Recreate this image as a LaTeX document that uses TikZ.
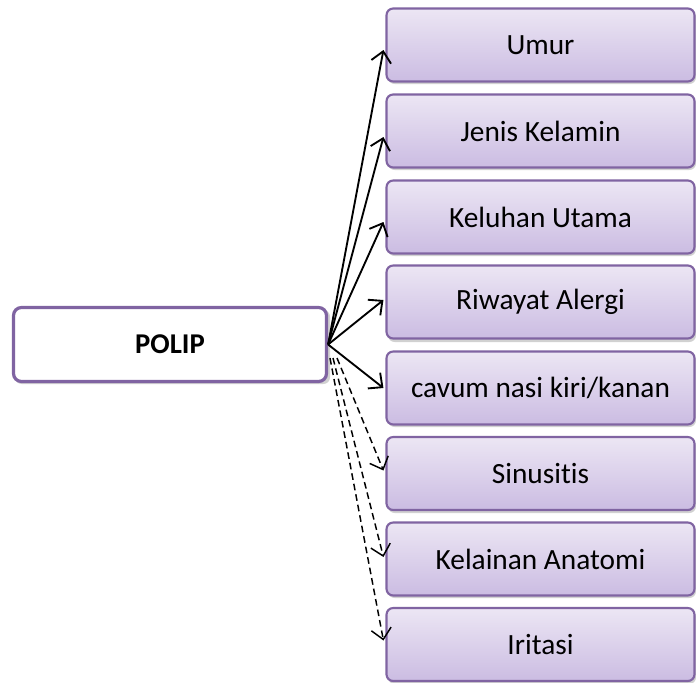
\documentclass[tikz,border=0pt]{standalone}
\usepackage{fontspec}
\setmainfont{Carlito}[Ligatures={NoCommon,NoRare}]
\usetikzlibrary{arrows.meta,calc}
\definecolor{bord}{HTML}{8064A2}
\definecolor{ltop}{HTML}{ECE6F4}
\definecolor{lbot}{HTML}{CBBCE2}
\tikzset{
  x=0.75pt, y=-0.75pt,
  leaf/.style={draw=bord, line width=1.6pt, rounded corners=5pt, top color=ltop, bottom color=lbot,
    minimum width=308*0.75pt, minimum height=73*0.75pt, inner sep=0pt,
    font=\fontsize{22}{26}\selectfont, text=black},
  rootbox/.style={draw=bord, line width=2.4pt, rounded corners=6pt, fill=white,
    minimum width=313*0.75pt, minimum height=74*0.75pt, inner sep=0pt,
    font=\fontsize{21.5}{26}\selectfont\bfseries},
  shadowbox/.style={fill=black, opacity=0.18, rounded corners=5pt},
  solidarrow/.style={line width=1.4pt, -{Straight Barb[length=8pt,width=15pt,line width=1.4pt]}},
  dasharrow/.style={line width=1.1pt, dash pattern=on 5pt off 3pt, -{Straight Barb[length=8pt,width=15pt,line width=1.1pt]}}
}
\begin{document}
\begin{tikzpicture}
\useasboundingbox (0,0) rectangle (696,682);
% shadows
\foreach \t in {8,94,180,266,351,437,522,608}{
  \fill[shadowbox] (388,\t+3) rectangle (696,\t+76);
}
\fill[shadowbox] (15,310) rectangle (330,384);
\node[rootbox] (polip) at (170,344.5) {POLIP};
\node[leaf] (umur) at (540.5,45) {Umur};
\node[leaf] (jenis) at (540.5,131) {Jenis Kelamin};
\node[leaf] (keluhan) at (540.5,217) {Keluhan Utama};
\node[leaf] (riwayat) at (540.5,302) {Riwayat Alergi};
\node[leaf] (cavum) at (540.5,388) {cavum nasi kiri/kanan};
\node[leaf] (sinus) at (540.5,473.5) {Sinusitis};
\node[leaf] (kelainan) at (540.5,559) {Kelainan Anatomi};
\node[leaf] (iritasi) at (540.5,644.5) {Iritasi};
\coordinate (d1) at (337,358);
\coordinate (d2) at (333,358);
\coordinate (d3) at (330,358);
\draw[solidarrow] (polip.east) -- ([shift={(-2,5)}]umur.west);
\draw[solidarrow] (polip.east) -- ([shift={(-2,6)}]jenis.west);
\draw[solidarrow] (polip.east) -- ([shift={(-2,5)}]keluhan.west);
\draw[solidarrow] (polip.east) -- ([shift={(-2,-2)}]riwayat.west);
\draw[solidarrow] (polip.east) -- ([shift={(-2,0)}]cavum.west);
\draw[dasharrow] (d1) -- ([shift={(-2,-3)}]sinus.west);
\draw[dasharrow] (d2) -- ([shift={(-2,-2)}]kelainan.west);
\draw[dasharrow] (d3) -- ([shift={(-2,-4)}]iritasi.west);
\end{tikzpicture}
\end{document}
